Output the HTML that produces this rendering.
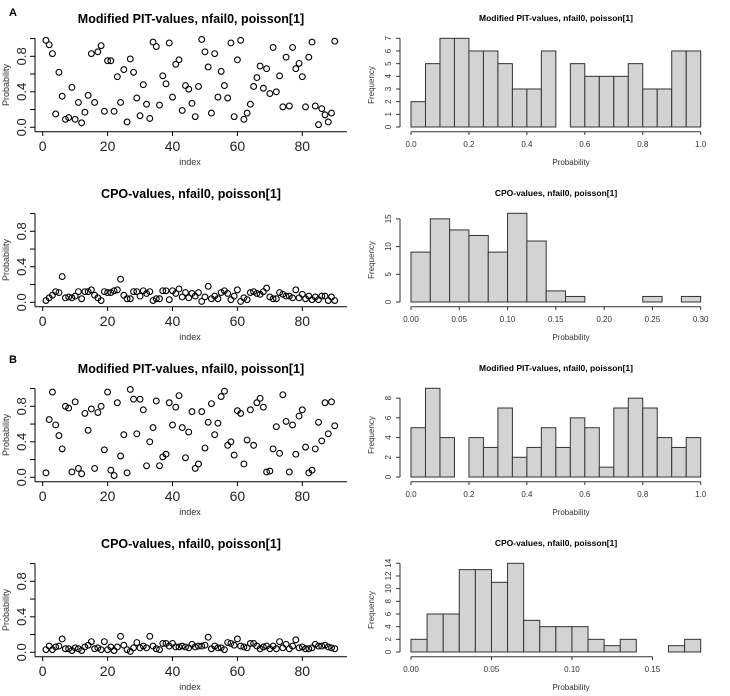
<!DOCTYPE html>
<html><head><meta charset="utf-8"><style>
body{margin:0;background:#fff}
svg{display:block;font-family:"Liberation Sans",Arial,sans-serif}
</style></head><body>
<svg id="c" width="730" height="696"></svg>
<script>
const pitA=[0.98,0.93,0.83,0.15,0.62,0.35,0.09,0.11,0.45,0.09,0.28,0.05,0.17,0.36,0.83,0.28,0.85,0.92,0.18,0.75,0.75,0.18,0.57,0.28,0.65,0.06,0.77,0.62,0.33,0.13,0.48,0.26,0.10,0.96,0.91,0.25,0.58,0.49,0.95,0.34,0.71,0.76,0.19,0.47,0.43,0.27,0.12,0.46,0.99,0.85,0.68,0.16,0.83,0.34,0.63,0.47,0.33,0.95,0.12,0.76,0.98,0.09,0.16,0.26,0.46,0.56,0.69,0.44,0.66,0.38,0.90,0.40,0.58,0.23,0.79,0.24,0.90,0.66,0.72,0.57,0.23,0.79,0.96,0.24,0.03,0.21,0.14,0.06,0.16,0.97];
const cpoA=[.02,.05,.08,.12,.11,.29,.05,.06,.05,.07,.12,.04,.12,.12,.14,.08,.05,.02,.12,.11,.11,.13,.14,.26,.08,.04,.04,.12,.12,.07,.13,.10,.12,.02,.04,.04,.13,.13,.03,.13,.10,.15,.06,.11,.05,.10,.07,.11,.01,.06,.18,.04,.07,.04,.11,.13,.10,.03,.07,.14,.01,.05,.03,.11,.12,.10,.09,.12,.16,.06,.04,.04,.11,.09,.07,.07,.05,.14,.05,.09,.04,.07,.03,.06,.03,.07,.07,.02,.06,.02];
const pitB=[.05,.65,.96,.59,.47,.32,.80,.78,.06,.85,.10,.04,.72,.53,.77,.10,.73,.80,.31,.96,.08,.02,.84,.24,.48,.05,.99,.88,.49,.88,.76,.13,.40,.56,.86,.13,.23,.26,.84,.59,.79,.92,.56,.22,.51,.74,.10,.15,.74,.33,.62,.83,.48,.61,.91,.97,.36,.40,.25,.75,.72,.15,.42,.76,.36,.84,.89,.79,.06,.07,.32,.57,.27,.93,.63,.06,.59,.26,.69,.76,.34,.05,.08,.32,.62,.41,.84,.49,.85,.58];
const cpoB=[.03,.07,.03,.06,.07,.15,.04,.04,.02,.05,.04,.02,.06,.08,.12,.04,.05,.03,.12,.03,.06,.02,.06,.18,.08,.03,.01,.05,.11,.05,.07,.05,.18,.07,.04,.03,.10,.10,.07,.10,.06,.06,.07,.06,.05,.09,.06,.07,.07,.08,.17,.04,.07,.05,.05,.03,.11,.10,.08,.15,.07,.06,.05,.10,.10,.07,.04,.06,.07,.04,.07,.04,.12,.05,.09,.04,.07,.14,.05,.06,.04,.04,.05,.09,.07,.07,.08,.06,.05,.04];
const histPitA=[2,5,7,7,6,6,5,3,3,6,0,5,4,4,4,5,3,3,6,6];
const histCpoA=[9,15,13,12,9,16,11,2,1,0,0,0,1,0,1];
const histPitB=[5,9,4,0,4,3,7,2,3,5,3,6,5,1,7,8,7,4,3,4];
const histCpoB=[2,6,6,13,13,11,14,5,4,4,4,2,1,2,0,0,1,2];
const ticksPitHist=["0.0","0.2","0.4","0.6","0.8","1.0"];
const ticksCpoAHist=["0.00","0.05","0.10","0.15","0.20","0.25","0.30"];
const ticksCpoBHist=["0.00","0.05","0.10","0.15"];
const yTicksA1=[0,1,2,3,4,5,6,7], yTicksA2=[0,5,10,15], yTicksB1=[0,2,4,6,8], yTicksB2=[0,2,4,6,8,10,12,14];

const S=document.getElementById('c'),NS='http://www.w3.org/2000/svg';
function el(t,a,p){const e=document.createElementNS(NS,t);for(const k in a)e.setAttribute(k,a[k]);(p||S).appendChild(e);return e;}
function txt(s,x,y,size,opts,p){const e=el('text',Object.assign({x:x,y:y,'font-size':size,'text-anchor':'middle',fill:'#000'},opts||{}),p);e.textContent=s;return e;}

function scatter(vals,off,title,name){
  const g=el('g',{});
  
  
  const X=i=>42.7+i*3.245, Y=v=>off+127.3-v*88.75;
  const t=txt(title,191,off+23,12.5,{'font-weight':'bold'},g);
  
  el('line',{x1:35,y1:Y(1),x2:35,y2:off+131.7,stroke:'#000','stroke-width':1},g);
  el('line',{x1:35,y1:off+131.7,x2:347,y2:off+131.7,stroke:'#000','stroke-width':1},g);
  for(let v=0;v<=1.001;v+=0.2){el('line',{x1:30,y1:Y(v),x2:35,y2:Y(v),stroke:'#000'},g);}
  ["0.0","0.4","0.8"].forEach(s=>{const v=parseFloat(s);txt(s,0,0,13,{transform:`translate(26,${Y(v)}) rotate(-90)`,fill:'#222'},g);});
  for(let i=0;i<=80;i+=20){el('line',{x1:X(i),y1:off+131.7,x2:X(i),y2:off+136,stroke:'#000'},g);txt(String(i),X(i),off+151,14,{fill:'#222'},g);}
  txt('index',190,off+165,9,{fill:'#333'},g);
  txt('Probability',0,0,9,{transform:`translate(9,${off+85}) rotate(-90)`,fill:'#333'},g);
  vals.forEach((v,i)=>{const c=el('circle',{cx:X(i+1),cy:Y(v),r:2.9,fill:'none',stroke:'#000','stroke-width':1.1},g);
    
    });
}
function hist(counts,off,title,xLabels,xMax,yTicks,name){
  const g=el('g',{});
  
  
  const n=counts.length,maxC=Math.max(...counts);
  const x0=411,x1=700.7,X=v=>x0+(x1-x0)*v/xMax,Y=c=>off+127-c*88.7/maxC,bw=xMax/n;
  const t=txt(title,556,off+21,8.5,{'font-weight':'bold'},g);
  
  counts.forEach((c,i)=>{
    const r=el('rect',{x:X(i*bw),y:Y(c),width:X((i+1)*bw)-X(i*bw),height:off+127-Y(c),fill:'#d3d3d3',stroke:'#333','stroke-width':1},g);
    
    
  });
  const lastTick=parseFloat(xLabels[xLabels.length-1]);
  el('line',{x1:x0,y1:off+131.7,x2:X(lastTick),y2:off+131.7,stroke:'#333'},g);
  xLabels.forEach(s=>{const v=parseFloat(s);el('line',{x1:X(v),y1:off+131.7,x2:X(v),y2:off+135,stroke:'#333'},g);txt(s,X(v),off+147,8,{fill:'#333'},g);});
  el('line',{x1:400,y1:Y(yTicks[0]),x2:400,y2:Y(yTicks[yTicks.length-1]),stroke:'#333'},g);
  yTicks.forEach(v=>{el('line',{x1:396,y1:Y(v),x2:400,y2:Y(v),stroke:'#333'},g);txt(String(v),0,0,8,{transform:`translate(391,${Y(v)}) rotate(-90)`,fill:'#333'},g);});
  txt('Probability',571,off+165,8,{fill:'#333'},g);
  txt('Frequency',0,0,8,{transform:`translate(374,${off+85}) rotate(-90)`,fill:'#333'},g);
}
scatter(pitA,0,'Modified PIT-values, nfail0, poisson[1]','pit-scatter-a');
hist(histPitA,0,'Modified PIT-values, nfail0, poisson[1]',ticksPitHist,1,yTicksA1,'pit-histogram-a');
scatter(cpoA,175,'CPO-values, nfail0, poisson[1]','cpo-scatter-a');
hist(histCpoA,175,'CPO-values, nfail0, poisson[1]',ticksCpoAHist,0.30,yTicksA2,'cpo-histogram-a');
scatter(pitB,350,'Modified PIT-values, nfail0, poisson[1]','pit-scatter-b');
hist(histPitB,350,'Modified PIT-values, nfail0, poisson[1]',ticksPitHist,1,yTicksB1,'pit-histogram-b');
scatter(cpoB,525,'CPO-values, nfail0, poisson[1]','cpo-scatter-b');
hist(histCpoB,525,'CPO-values, nfail0, poisson[1]',ticksCpoBHist,0.18,yTicksB2,'cpo-histogram-b');
const la=txt('A',13,16,11,{'font-weight':'bold'});

const lb=txt('B',13,363,11,{'font-weight':'bold'});

</script>
</body></html>
